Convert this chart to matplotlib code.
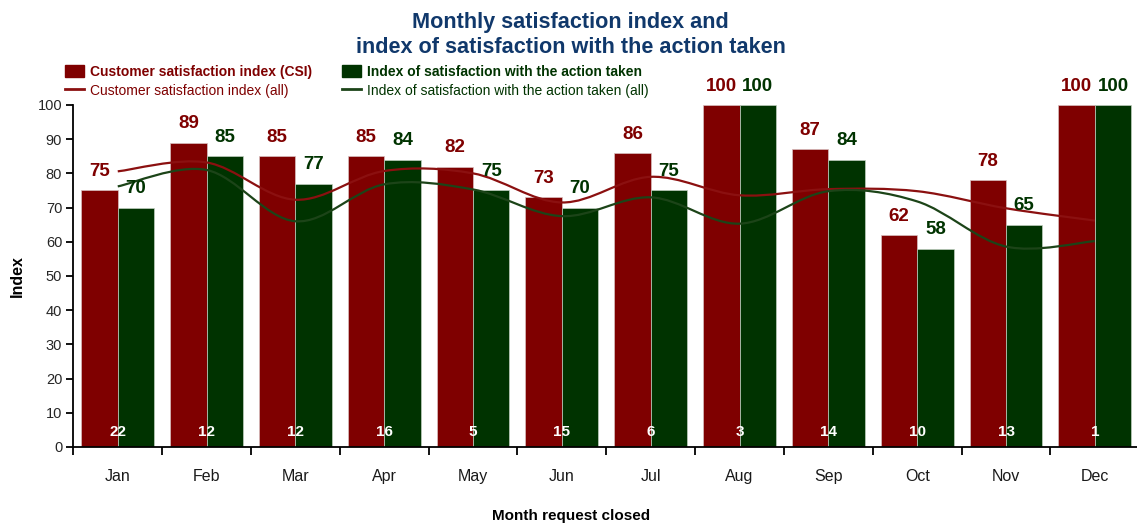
import matplotlib.pyplot as plt
import numpy as np
from matplotlib.path import Path
from matplotlib.patches import PathPatch, Patch
from matplotlib.lines import Line2D

plt.rcParams['font.family'] = ['Liberation Sans', 'DejaVu Sans']

# данные по месяцам
months = ['Jan', 'Feb', 'Mar', 'Apr', 'May', 'Jun', 'Jul', 'Aug', 'Sep', 'Oct', 'Nov', 'Dec']
csi = [75, 89, 85, 85, 82, 73, 86, 100, 87, 62, 78, 100]
action = [70, 85, 77, 84, 75, 70, 75, 100, 84, 58, 65, 100]
csi_all = [80.6, 83.2, 72.3, 80.7, 80.0, 71.5, 79.0, 73.6, 75.4, 74.8, 69.8, 66.2]
action_all = [76.2, 81.0, 66.0, 76.8, 75.3, 67.5, 73.0, 65.3, 74.8, 71.8, 58.6, 60.2]
requests = [22, 12, 12, 16, 5, 15, 6, 3, 14, 10, 13, 1]

red = '#7f0000'
green = '#003300'
red_line = '#8b1010'
green_line = '#1c4418'
title_blue = '#10386b'


def smooth_path(xs, ys):
    # сглаженная кривая через точки (кривые Безье, как "сглаженная линия" в Excel)
    pts = np.column_stack([xs, ys]).astype(float)
    verts = [pts[0]]
    codes = [Path.MOVETO]
    n = len(pts)
    for i in range(n - 1):
        p0 = pts[max(i - 1, 0)]
        p1 = pts[i]
        p2 = pts[i + 1]
        p3 = pts[min(i + 2, n - 1)]
        c1 = p1 + (p2 - p0) / 6
        c2 = p2 - (p3 - p1) / 6
        verts += [c1, c2, p2]
        codes += [Path.CURVE4] * 3
    return Path(verts, codes)


x = np.arange(len(months))
w = 0.41

fig = plt.figure(figsize=(11.37, 5.25), dpi=100)
ax = fig.add_axes([0.0645, 0.1486, 0.9375, 0.6514])

ax.bar(x - w / 2, csi, w, color=red, edgecolor='#d9c0c0', linewidth=0.5, zorder=2)
ax.bar(x + w / 2, action, w, color=green, edgecolor='#c0d0c0', linewidth=0.5, zorder=2)

ax.add_patch(PathPatch(smooth_path(x, csi_all), fill=False, edgecolor=red_line, lw=1.6, zorder=3))
ax.add_patch(PathPatch(smooth_path(x, action_all), fill=False, edgecolor=green_line, lw=1.6, zorder=3))

# подписи значений над столбцами и число заявок внизу
for i in range(len(months)):
    ax.annotate(str(csi[i]), (x[i] - w / 2, csi[i]), xytext=(0, 13.5), textcoords='offset points',
                ha='center', va='center', fontsize=13.5, fontweight='bold', color=red, zorder=4)
    ax.annotate(str(action[i]), (x[i] + w / 2, action[i]), xytext=(0, 13.5), textcoords='offset points',
                ha='center', va='center', fontsize=13.5, fontweight='bold', color=green, zorder=4)
    ax.text(x[i], 4.4, str(requests[i]), ha='center', va='center', fontsize=11,
            fontweight='bold', color='white', zorder=4)

ax.set_xlim(-0.5, len(months) - 0.5)
ax.set_ylim(0, 100)
ax.set_yticks(range(0, 101, 10))
ax.set_xticks(x)
ax.set_xticklabels(months)
ax.set_xticks(np.arange(-0.5, len(months), 1), minor=True)
ax.tick_params(axis='x', which='major', length=0, pad=16, labelsize=11.5, labelcolor='#1a1a1a')
ax.tick_params(axis='x', which='minor', length=6, width=1.3, direction='out')
ax.tick_params(axis='y', length=5, width=1.3, labelsize=10.5, labelcolor='#262626', pad=3)

for s in ['top', 'right']:
    ax.spines[s].set_visible(False)
for s in ['left', 'bottom']:
    ax.spines[s].set_linewidth(1.3)

ax.set_ylabel('Index', fontsize=11.5, fontweight='bold', labelpad=9)
fig.text(0.502, 0.003, 'Month request closed', ha='center', va='bottom', fontsize=11, fontweight='bold')

fig.text(0.502, 0.978, 'Monthly satisfaction index and\nindex of satisfaction with the action taken',
         ha='center', va='top', fontsize=15.6, fontweight='bold', color=title_blue, linespacing=1.3)

handles = [Patch(color=red), Line2D([], [], color=red_line, lw=2),
           Patch(color=green), Line2D([], [], color=green_line, lw=2)]
labels = ['Customer satisfaction index (CSI)', 'Customer satisfaction index (all)',
          'Index of satisfaction with the action taken',
          'Index of satisfaction with the action taken (all)']
leg = fig.legend(handles, labels, loc='upper left', bbox_to_anchor=(0.052, 0.887), ncol=2,
                 frameon=False, fontsize=10, handlelength=1.4, handleheight=1.0,
                 handletextpad=0.45, columnspacing=2.1, labelspacing=0.35, borderaxespad=0,
                 labelcolor=[red, red, green, green])
for t, bold in zip(leg.get_texts(), [True, False, True, False]):
    if bold:
        t.set_fontweight('bold')

fig.savefig('out.png', dpi=100)
